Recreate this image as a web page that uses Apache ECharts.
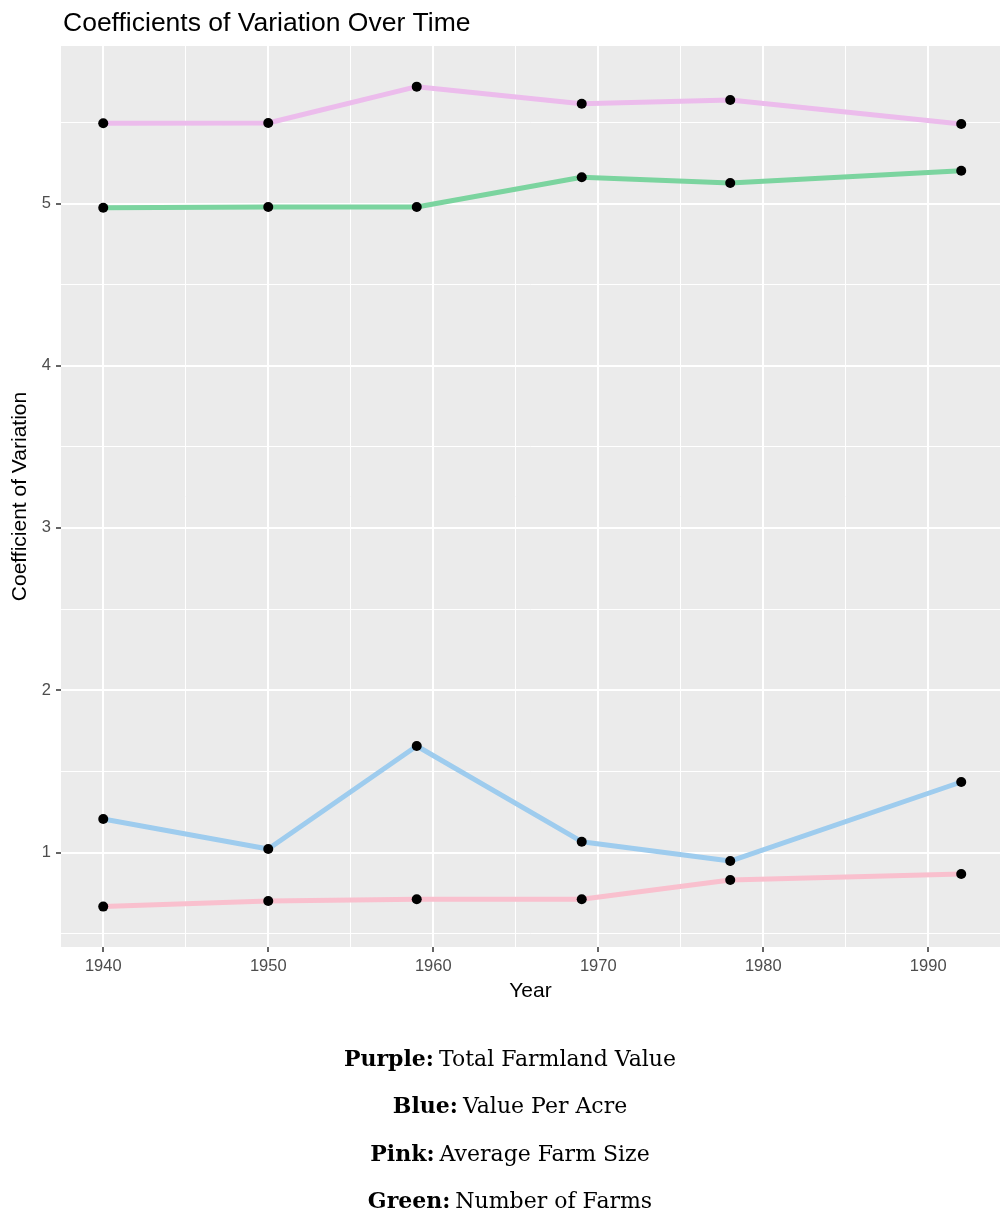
<!DOCTYPE html>
<html>
<head>
<meta charset="utf-8">
<script src="https://cdn.jsdelivr.net/npm/echarts@6/dist/echarts.min.js"></script>
<style>
html,body{margin:0;padding:0;background:#fff;}
#chart{width:1000px;height:1211px;}
</style>
</head>
<body>
<div id="chart"></div>
<script>
// ---- data ----
const years = [1940, 1950, 1959, 1969, 1978, 1992];
const totalFarmlandValue = [5.493, 5.495, 5.719, 5.614, 5.637, 5.489];   // purple
const numberOfFarms      = [4.973, 4.977, 4.977, 5.160, 5.125, 5.201];   // green
const valuePerAcre       = [1.205, 1.020, 1.655, 1.065, 0.946, 1.433];   // blue
const averageFarmSize    = [0.665, 0.700, 0.710, 0.710, 0.829, 0.866];   // pink

const xTicks = [1940, 1950, 1960, 1970, 1980, 1990];
const xMinor = [1945, 1955, 1965, 1975, 1985];
const yTicks = [1, 2, 3, 4, 5];
const yMinor = [0.5, 1.5, 2.5, 3.5, 4.5, 5.5];

const captions = [
  ['Purple:', 'Total Farmland Value'],
  ['Blue:', 'Value Per Acre'],
  ['Pink:', 'Average Farm Size'],
  ['Green:', 'Number of Farms']
];

const X_MIN = 1937.44, X_MAX = 1994.35;
const Y_MIN = 0.416, Y_MAX = 5.9695;

function pairs(vals) { return years.map((y, i) => [y, vals[i]]); }

const gridLines = [].concat(
  xTicks.map(v => ({ xAxis: v, lineStyle: { width: 2 } })),
  xMinor.map(v => ({ xAxis: v, lineStyle: { width: 1 } })),
  yTicks.map(v => ({ yAxis: v, lineStyle: { width: 2 } })),
  yMinor.map(v => ({ yAxis: v, lineStyle: { width: 1 } }))
);

function lineSeries(name, vals, color, withGrid) {
  const s = {
    name: name,
    type: 'line',
    data: pairs(vals),
    symbol: 'circle',
    symbolSize: 10,
    showAllSymbol: true,
    z: 3,
    lineStyle: { color: color, width: 5 },
    itemStyle: { color: '#000' },
    emphasis: { disabled: true },
    animation: false
  };
  if (withGrid) {
    s.markLine = {
      z: 1,
      silent: true,
      symbol: ['none', 'none'],
      label: { show: false },
      emphasis: { disabled: true },
      animation: false,
      lineStyle: { color: '#ffffff', type: 'solid', width: 2 },
      data: gridLines
    };
  }
  return s;
}

const serifFont = 'DejaVu Serif';
const captionTitles = captions.map((c, i) => ({
  text: '{b|' + c[0] + '} {r|' + c[1] + '}',
  left: 505,
  textAlign: 'center',
  top: 1042 + i * 47.5,
  textStyle: {
    rich: {
      b: { fontFamily: serifFont, fontWeight: 'bold', fontSize: 22, color: '#000', lineHeight: 26 },
      r: { fontFamily: serifFont, fontWeight: 'normal', fontSize: 22, color: '#000', lineHeight: 26 }
    }
  }
}));

const chart = echarts.init(document.getElementById('chart'), null, { renderer: 'canvas' });
chart.setOption({
  animation: false,
  backgroundColor: '#ffffff',
  title: [{
    text: 'Coefficients of Variation Over Time',
    left: 58,
    top: 3,
    textStyle: { fontFamily: 'Liberation Sans', fontWeight: 'normal', fontSize: 26.5, color: '#000', lineHeight: 32 }
  }].concat(captionTitles),
  grid: {
    left: 61, right: 0, top: 46, bottom: 264,
    show: true, backgroundColor: '#EBEBEB', borderWidth: 0,
    containLabel: false
  },
  xAxis: {
    type: 'value',
    min: X_MIN, max: X_MAX,
    name: 'Year',
    nameLocation: 'middle',
    nameGap: 34,
    nameTextStyle: { fontFamily: 'Liberation Sans', fontSize: 21, color: '#000' },
    axisLine: { show: false },
    splitLine: { show: false },
    axisTick: { show: true, length: 5, customValues: xTicks, lineStyle: { color: '#333333', width: 1.5 } },
    axisLabel: { customValues: xTicks, margin: 11, fontFamily: 'Liberation Sans', fontSize: 16.5, color: '#4D4D4D',
                 formatter: v => String(Math.round(v)) }
  },
  yAxis: {
    type: 'value',
    min: Y_MIN, max: Y_MAX,
    name: 'Coefficient of Variation',
    nameLocation: 'middle',
    nameGap: 25,
    nameRotate: 90,
    nameTextStyle: { fontFamily: 'Liberation Sans', fontSize: 21, color: '#000' },
    axisLine: { show: false },
    splitLine: { show: false },
    axisTick: { show: true, length: 5, customValues: yTicks, lineStyle: { color: '#333333', width: 1.5 } },
    axisLabel: { customValues: yTicks, margin: 10, fontFamily: 'Liberation Sans', fontSize: 16.5, color: '#4D4D4D',
                 formatter: v => String(Math.round(v)) }
  },
  series: [
    lineSeries('Total Farmland Value', totalFarmlandValue, '#ECBCEC', true),
    lineSeries('Number of Farms', numberOfFarms, '#7BD49F', false),
    lineSeries('Value Per Acre', valuePerAcre, '#9ECCEE', false),
    lineSeries('Average Farm Size', averageFarmSize, '#F9C0CE', false)
  ]
});
</script>
</body>
</html>
